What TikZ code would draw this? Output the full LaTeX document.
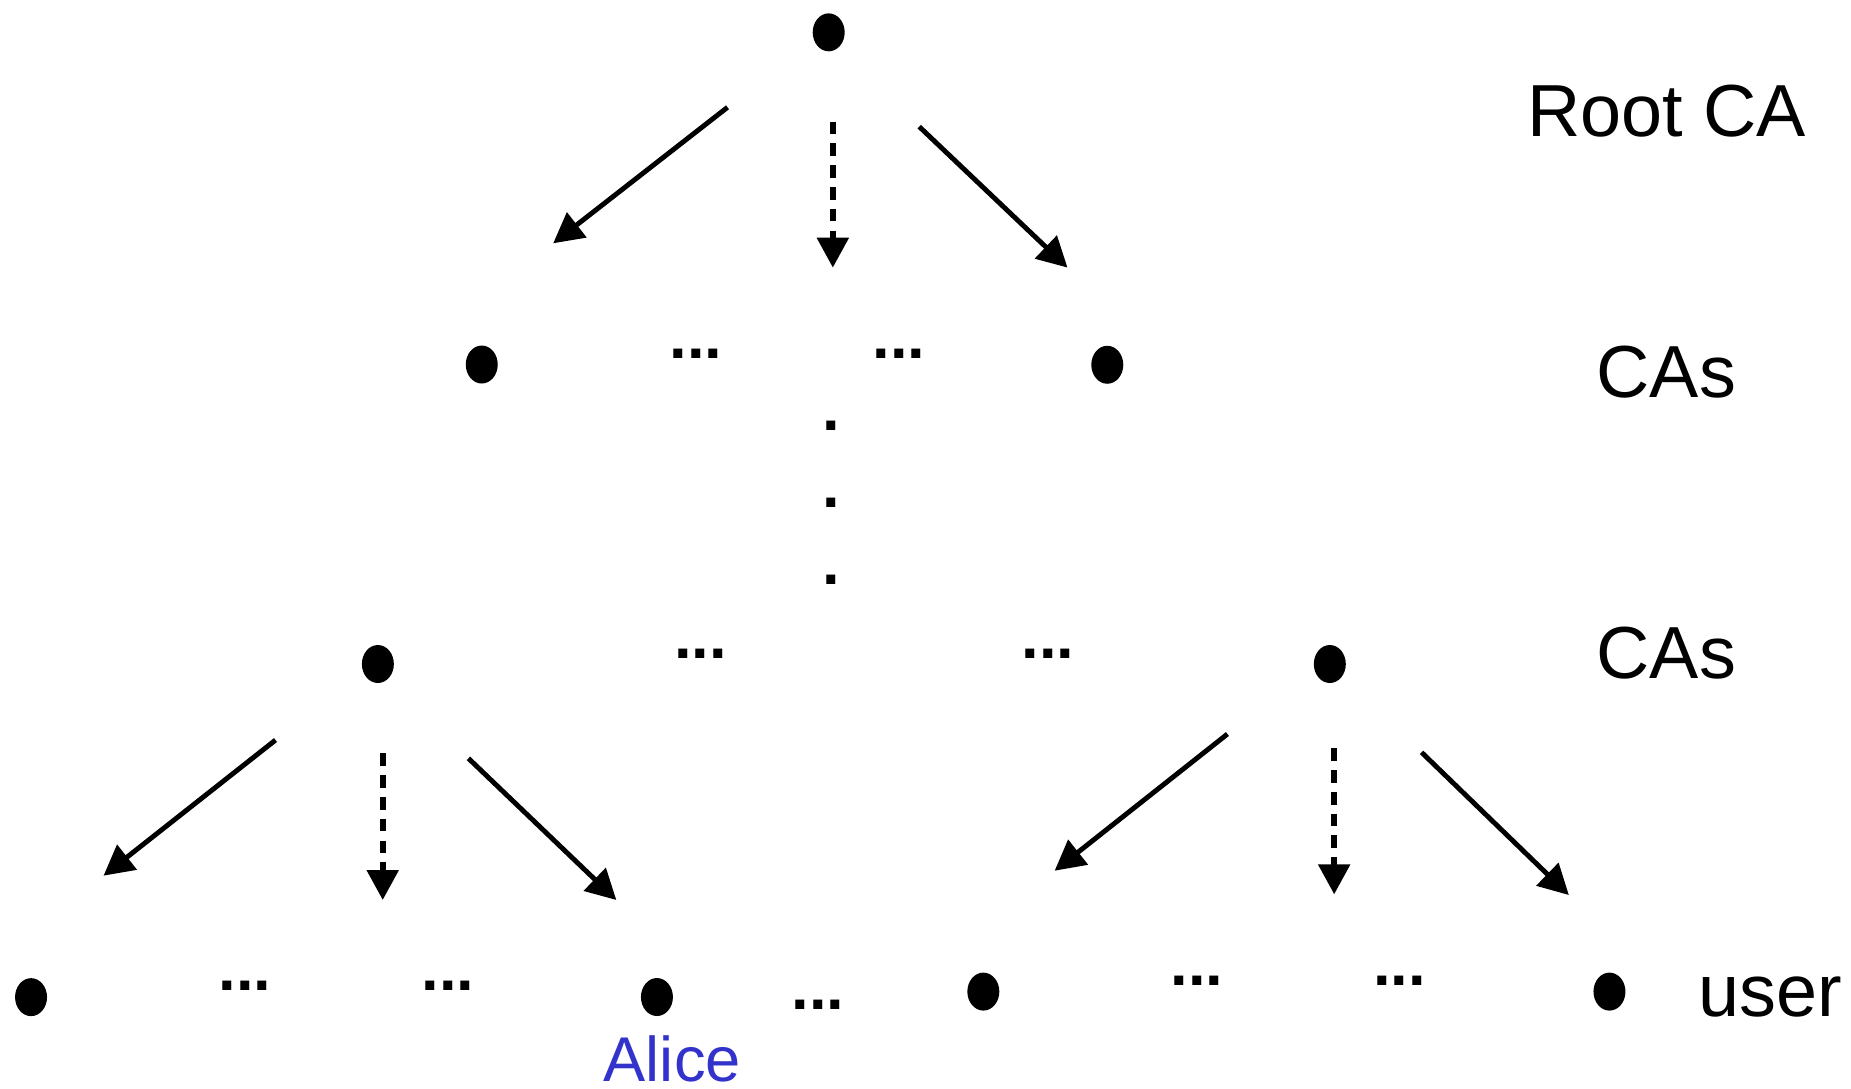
\documentclass[tikz,border=0pt]{standalone}
\usepackage{fontspec}
\setmainfont{Liberation Sans}
\usetikzlibrary{arrows.meta,shapes.geometric}
\definecolor{aliceblue2}{RGB}{51,51,204}
\begin{document}
\begin{tikzpicture}[x=0.011805cm,y=-0.011805cm,
  dot/.style={ellipse,fill=black,inner sep=0pt,minimum width=0.32cm,minimum height=0.38cm},
  lbl/.style={font=\fontsize{21}{25}\selectfont,inner sep=0pt,anchor=base},
  ell/.style={font=\bfseries\fontsize{18}{22}\selectfont,inner sep=0pt},
  link/.style={line width=1.4pt,-{Triangle[length=0.30cm,width=0.31cm]}},
  dlink/.style={link,line width=1.6pt,dash pattern=on 3.6pt off 2.6pt}]
\useasboundingbox (0,0) rectangle (1568,922);
% level 0
\node[dot] (root) at (702,27.4) {};
\node[lbl] (rootlbl) at (1412,115.5) {Root CA};
% level 1
\node[dot] (ca1l) at (408.1,308.8) {};
\node[dot] (ca1r) at (938,309) {};
\node[ell] (e1a) at (589.5,300) {...};
\node[ell] (e1b) at (761.6,300) {...};
\node[lbl] (cas1) at (1411.6,337) {CAs};
% vertical dots
\node[ell] (v1) at (704,361) {.};
\node[ell] (v2) at (704,426) {.};
\node[ell] (v3) at (704,491) {.};
% level 2
\node[dot] (ca2l) at (320.1,562.5) {};
\node[dot] (ca2r) at (1126.5,562.5) {};
\node[ell] (e2a) at (593.5,554) {...};
\node[ell] (e2b) at (887.6,554) {...};
\node[lbl] (cas2) at (1411.6,575) {CAs};
% level 3
\node[dot] (u1) at (26.3,844.7) {};
\node[dot] (alice) at (556.5,844.6) {};
\node[dot] (u3) at (833,840) {};
\node[dot] (u4) at (1363.4,840) {};
\node[ell] (e3a) at (207.5,835) {...};
\node[ell] (e3b) at (379.5,835) {...};
\node[ell] (e3c) at (693,851) {...};
\node[ell] (e3d) at (1014,830.7) {...};
\node[ell] (e3e) at (1185.7,830.7) {...};
\node[lbl,anchor=base west] (userlbl) at (1438,861) {user};
\node[lbl,font=\fontsize{18}{22}\selectfont,text=aliceblue2] (alicelbl) at (569.5,916) {Alice};
% arrow end points
\coordinate (s0l) at (616.3,90.9);  \coordinate (t0l) at (468.6,206.1);
\coordinate (s0m) at (705.5,103.1); \coordinate (t0m) at (705.5,226.7);
\coordinate (s0r) at (778.7,107.3); \coordinate (t0r) at (904.3,226.7);
\coordinate (s1l) at (233.4,626.9); \coordinate (t1l) at (87.7,741.8);
\coordinate (s1m) at (324.2,638.2); \coordinate (t1m) at (324.2,762.4);
\coordinate (s1r) at (396.8,642.4); \coordinate (t1r) at (522.1,762.4);
\coordinate (s2l) at (1039.8,621.8); \coordinate (t2l) at (893.4,737.6);
\coordinate (s2m) at (1130.2,633.9); \coordinate (t2m) at (1130.2,757.6);
\coordinate (s2r) at (1204.2,637.3); \coordinate (t2r) at (1329,758.2);
% arrows
\draw[link] (s0l) -- (t0l);
\draw[dlink] (s0m) -- (t0m);
\draw[link] (s0r) -- (t0r);
\draw[link] (s1l) -- (t1l);
\draw[dlink] (s1m) -- (t1m);
\draw[link] (s1r) -- (t1r);
\draw[link] (s2l) -- (t2l);
\draw[dlink] (s2m) -- (t2m);
\draw[link] (s2r) -- (t2r);
\end{tikzpicture}
\end{document}
